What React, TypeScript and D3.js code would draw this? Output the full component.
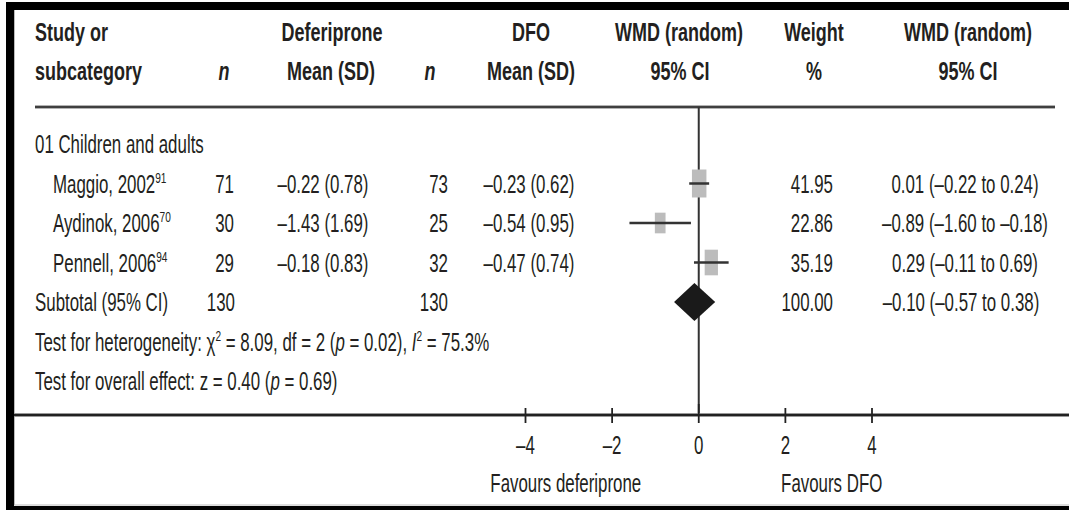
import React from 'react'
import * as d3 from 'd3'

const studies = ['Maggio, 2002', 'Aydinok, 2006', 'Pennell, 2006']
const refs = ['91', '70', '94']
const nDef = [71, 30, 29]
const defMean = [-0.22, -1.43, -0.18]
const defSD = [0.78, 1.69, 0.83]
const nDfo = [73, 25, 32]
const dfoMean = [-0.23, -0.54, -0.47]
const dfoSD = [0.62, 0.95, 0.74]
const wmd = [0.01, -0.89, 0.29]
const ciLow = [-0.22, -1.6, -0.11]
const ciHigh = [0.24, -0.18, 0.69]
const weights = [41.95, 22.86, 35.19]
const subtotalN = [130, 130]
const subtotalWmd = [-0.1, -0.57, 0.38]
const subtotalWeight = 100
const xTicks = [-4, -2, 0, 2, 4]

const W = 1069
const H = 510
const INK = '#231f20'
const FONT = '"Liberation Sans", Arial, sans-serif'
const FS = 25
const SX = 0.675
const SX_BOLD = 0.72

const locale = d3.formatLocale({
  decimal: '.',
  thousands: ',',
  grouping: [3],
  currency: ['', ''],
  minus: '\u2013'
})
const f2 = locale.format('.2f')
const f0 = locale.format('d')

type TProps = {
  x: number
  y: number
  anchor?: 'start' | 'middle' | 'end'
  bold?: boolean
  italic?: boolean
  size?: number
  children: React.ReactNode
}

// text squeezed horizontally, the source font is a tall condensed one
const T = ({ x, y, anchor = 'start', bold, italic, size = FS, children }: TProps) => (
  <text
    transform={`translate(${x},${y}) scale(${bold ? SX_BOLD : SX},1)`}
    textAnchor={anchor}
    fontFamily={FONT}
    fontSize={size}
    fontWeight={bold ? 'bold' : 'normal'}
    fontStyle={italic ? 'italic' : 'normal'}
    fill={INK}
  >
    {children}
  </text>
)

const Sup = ({ children }: { children: React.ReactNode }) => (
  <tspan fontSize={15} dy={-10}>
    {children}
  </tspan>
)

export default function App() {
  const x = d3.scaleLinear().domain([-4, 4]).range([525.5, 872])
  const row = d3.scaleLinear().domain([0, 6]).range([153, 390])
  const markW = d3.scaleSqrt().domain([0, 42]).range([0, 14.5])
  const markH = d3.scaleSqrt().domain([0, 42]).range([0, 28])

  const x0 = x(0)
  const subY = row(4) - 9
  const diamond = d3.line()([
    [x(subtotalWmd[1]), subY],
    [x(subtotalWmd[0]), subY - 19],
    [x(subtotalWmd[2]), subY],
    [x(subtotalWmd[0]), subY + 19]
  ] as [number, number][]) + 'Z'

  const ms = (v: number, s: number) => `${f2(v)} (${f2(s)})`
  const ci = (m: number, lo: number, hi: number) => `${f2(m)} (${f2(lo)} to ${f2(hi)})`

  return (
    <svg width={W} height={H} style={{ position: 'absolute', left: 0, top: 0, background: '#fff' }}>
      {/* frame */}
      <rect x={6} y={2} width={W - 6} height={8} fill="#000" />
      <rect x={6} y={2} width={8} height={H - 2} fill="#000" />
      <rect x={6} y={506} width={W - 6} height={4} fill="#000" />
      <line x1={14} x2={W} y1={505} y2={505} stroke="#bbb" />
      <line x1={14.5} x2={14.5} y1={10} y2={505} stroke="#bbb" />

      {/* header */}
      <T x={35} y={41} bold>Study or</T>
      <T x={35} y={80} bold>subcategory</T>
      <T x={224} y={80} anchor="middle" bold italic>n</T>
      <T x={332} y={41} anchor="middle" bold>Deferiprone</T>
      <T x={331} y={80} anchor="middle" bold>Mean (SD)</T>
      <T x={430} y={80} anchor="middle" bold italic>n</T>
      <T x={531} y={41} anchor="middle" bold>DFO</T>
      <T x={531} y={80} anchor="middle" bold>Mean (SD)</T>
      <T x={679} y={41} anchor="middle" bold>WMD (random)</T>
      <T x={680} y={80} anchor="middle" bold>95% CI</T>
      <T x={814} y={41} anchor="middle" bold>Weight</T>
      <T x={814} y={80} anchor="middle" bold>%</T>
      <T x={968} y={41} anchor="middle" bold>WMD (random)</T>
      <T x={968} y={80} anchor="middle" bold>95% CI</T>

      <line x1={35} x2={1055} y1={107} y2={107} stroke="#999" strokeWidth={3.5} />
      <line x1={35} x2={1055} y1={107} y2={107} stroke="#222" strokeWidth={1.5} />

      {/* reference line */}
      <line x1={x0} x2={x0} y1={107} y2={415} stroke="#333" strokeWidth={2} />

      {/* group */}
      <T x={35} y={row(0)}>01 Children and adults</T>

      {studies.map((s, i) => {
        const y = row(i + 1)
        const cy = y - 9
        const w = markW(weights[i])
        const h = markH(weights[i])
        return (
          <g key={s}>
            <T x={53} y={y}>
              {s}
              <Sup>{refs[i]}</Sup>
            </T>
            <T x={234} y={y} anchor="end">{f0(nDef[i])}</T>
            <T x={323} y={y} anchor="middle">{ms(defMean[i], defSD[i])}</T>
            <T x={448} y={y} anchor="end">{f0(nDfo[i])}</T>
            <T x={529} y={y} anchor="middle">{ms(dfoMean[i], dfoSD[i])}</T>
            <rect x={x(wmd[i]) - w / 2} y={cy - h / 2} width={w} height={h} fill="#bcbcbc" />
            <line x1={x(ciLow[i])} x2={x(ciHigh[i])} y1={cy} y2={cy} stroke="#333" strokeWidth={2.5} />
            <T x={833} y={y} anchor="end">{f2(weights[i])}</T>
            <T x={965} y={y} anchor="middle">{ci(wmd[i], ciLow[i], ciHigh[i])}</T>
          </g>
        )
      })}

      {/* subtotal */}
      <T x={35} y={row(4)}>Subtotal (95% CI)</T>
      <T x={235} y={row(4)} anchor="end">{f0(subtotalN[0])}</T>
      <T x={448} y={row(4)} anchor="end">{f0(subtotalN[1])}</T>
      <path d={diamond} fill="#1a1a1a" />
      <T x={833} y={row(4)} anchor="end">{f2(subtotalWeight)}</T>
      <T x={961} y={row(4)} anchor="middle">{ci(subtotalWmd[0], subtotalWmd[1], subtotalWmd[2])}</T>

      <T x={35} y={row(5)}>
        Test for heterogeneity: χ<Sup>2</Sup>
        <tspan dy={10}> = 8.09, df = 2 (</tspan>
        <tspan fontStyle="italic">p</tspan> = 0.02), <tspan fontStyle="italic">I</tspan>
        <Sup>2</Sup>
        <tspan dy={10}> = 75.3%</tspan>
      </T>
      <T x={35} y={row(6)}>
        Test for overall effect: z = 0.40 (<tspan fontStyle="italic">p</tspan> = 0.69)
      </T>

      {/* axis */}
      <line x1={14} x2={W} y1={415} y2={415} stroke="#999" strokeWidth={4} />
      <line x1={14} x2={W} y1={415} y2={415} stroke="#222" strokeWidth={2} />
      {xTicks.map(t => (
        <g key={t}>
          <line x1={x(t)} x2={x(t)} y1={t === 0 ? 404 : 408} y2={423} stroke="#222" strokeWidth={1.8} />
          <T x={x(t)} y={454} anchor="middle">{f0(t)}</T>
        </g>
      ))}
      <T x={x(-3.07)} y={492} anchor="middle">Favours deferiprone</T>
      <T x={x(3.07)} y={492} anchor="middle">Favours DFO</T>
    </svg>
  )
}
